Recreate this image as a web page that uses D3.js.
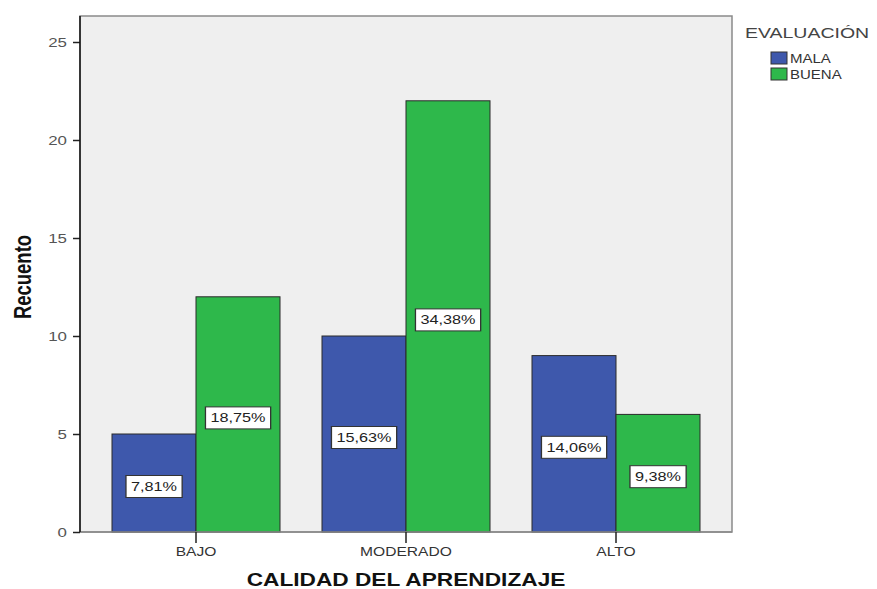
<!DOCTYPE html>
<html>
<head>
<meta charset="utf-8">
<script src="https://cdn.jsdelivr.net/npm/d3@7"></script>
<style>
  html, body { margin: 0; padding: 0; background: #fff; }
  svg { display: block; font-family: "Liberation Sans", Arial, sans-serif; }
</style>
</head>
<body>
<svg id="chart" width="877" height="589"></svg>
<script>
// Counts of learning-quality level by evaluation group
const categories = ["BAJO", "MODERADO", "ALTO"];
const seriesNames = ["MALA", "BUENA"];
const malaValues = [5, 10, 9];
const buenaValues = [12, 22, 6];
const malaLabels = ["7,81%", "15,63%", "14,06%"];
const buenaLabels = ["18,75%", "34,38%", "9,38%"];
const yTicks = [0, 5, 10, 15, 20, 25];
const colors = { MALA: "#3e58ac", BUENA: "#2eb84b" };

// text is drawn slightly wide, as in the original export
const K = 1.3;

const svg = d3.select("#chart");
const plot = { left: 80, right: 732, top: 16, bottom: 532 };

const y = d3.scaleLinear().domain([0, 25]).range([532, 42]);
const x = d3.scaleBand().domain(categories).range([91, 721])
  .paddingInner(0.2).paddingOuter(0.1);
const xs = d3.scaleBand().domain(seriesNames).range([0, x.bandwidth()]);

// plot background
svg.append("rect")
  .attr("x", plot.left).attr("y", plot.top)
  .attr("width", plot.right - plot.left).attr("height", plot.bottom - plot.top)
  .attr("fill", "#efefef").attr("stroke", "#8a8a8a").attr("stroke-width", 1.5);

const rows = categories.map((c, i) => ({
  cat: c,
  values: [
    { key: "MALA", v: malaValues[i], label: malaLabels[i] },
    { key: "BUENA", v: buenaValues[i], label: buenaLabels[i] }
  ]
}));

const groups = svg.append("g").selectAll("g").data(rows).join("g")
  .attr("transform", d => `translate(${x(d.cat)},0)`);

groups.selectAll("rect").data(d => d.values).join("rect")
  .attr("x", d => xs(d.key))
  .attr("y", d => y(d.v))
  .attr("width", xs.bandwidth())
  .attr("height", d => y(0) - y(d.v))
  .attr("fill", d => colors[d.key])
  .attr("stroke", "#2a2a2a").attr("stroke-width", 1);

// value labels in boxes, centred in each bar
const lab = groups.selectAll("g.lab").data(d => d.values).join("g")
  .attr("class", "lab")
  .attr("transform", d => `translate(${xs(d.key) + xs.bandwidth() / 2},${(y(d.v) + y(0)) / 2 + 3.5}) scale(${K},1)`);
lab.append("text")
  .attr("text-anchor", "middle").attr("dy", "0.35em")
  .attr("font-size", 12.5).attr("fill", "#222")
  .text(d => d.label);
lab.each(function() {
  const g = d3.select(this);
  const bb = g.select("text").node().getBBox();
  const padX = 5 / K;
  g.insert("rect", "text")
    .attr("x", bb.x - padX).attr("y", -11)
    .attr("width", bb.width + 2 * padX).attr("height", 22)
    .attr("fill", "#fff").attr("stroke", "#333").attr("stroke-width", 1);
});

// baseline along the bottom of the plot
svg.append("line")
  .attr("x1", plot.left).attr("x2", plot.right)
  .attr("y1", y(0)).attr("y2", y(0))
  .attr("stroke", "#8a8a8a").attr("stroke-width", 1.5);

// y axis
const yAxis = svg.append("g").attr("transform", `translate(${plot.left},0)`)
  .call(d3.axisLeft(y).tickValues(yTicks).tickSize(7).tickPadding(3));
yAxis.select(".domain").remove();
svg.append("line")
  .attr("x1", plot.left).attr("x2", plot.left)
  .attr("y1", plot.top).attr("y2", plot.bottom)
  .attr("stroke", "#111").attr("stroke-width", 1.5);
yAxis.selectAll(".tick line").attr("stroke", "#222").attr("stroke-width", 1.5);
yAxis.selectAll(".tick text").attr("font-size", 13).attr("fill", "#555")
  .attr("font-family", "Liberation Sans, Arial, sans-serif")
  .attr("transform", `scale(${K},1)`);

// x axis
const xAxis = svg.append("g").attr("transform", `translate(0,${plot.bottom})`)
  .call(d3.axisBottom(x).tickSize(11).tickPadding(4.5));
xAxis.select(".domain").remove();
xAxis.selectAll(".tick line").attr("stroke", "#222").attr("stroke-width", 1.5);
xAxis.selectAll(".tick text").attr("font-size", 12).attr("fill", "#333")
  .attr("font-family", "Liberation Sans, Arial, sans-serif")
  .attr("transform", `scale(${K},1)`);

// axis titles
svg.append("g").attr("transform", `translate(406,586) scale(1.26,1)`)
  .append("text")
  .attr("text-anchor", "middle")
  .attr("font-size", 18).attr("font-weight", "bold").attr("fill", "#111")
  .text("CALIDAD DEL APRENDIZAJE");
svg.append("g").attr("transform", `translate(31,277) scale(${K},1) rotate(-90)`)
  .append("text")
  .attr("text-anchor", "middle")
  .attr("font-size", 18.5).attr("font-weight", "bold").attr("fill", "#111")
  .text("Recuento");

// legend
const legend = svg.append("g");
legend.append("g").attr("transform", `translate(745,38) scale(${K},1)`)
  .append("text")
  .attr("font-size", 15).attr("fill", "#444")
  .text("EVALUACIÓN");
const li = legend.selectAll("g.item").data(seriesNames).join("g")
  .attr("class", "item")
  .attr("transform", (d, i) => `translate(771,${52 + i * 16})`);
li.append("rect")
  .attr("width", 16).attr("height", 12)
  .attr("fill", d => colors[d]).attr("stroke", "#333").attr("stroke-width", 1);
li.append("g").attr("transform", `translate(19,11) scale(1.25,1)`)
  .append("text")
  .attr("font-size", 12).attr("fill", "#333")
  .text(d => d);
</script>
</body>
</html>
